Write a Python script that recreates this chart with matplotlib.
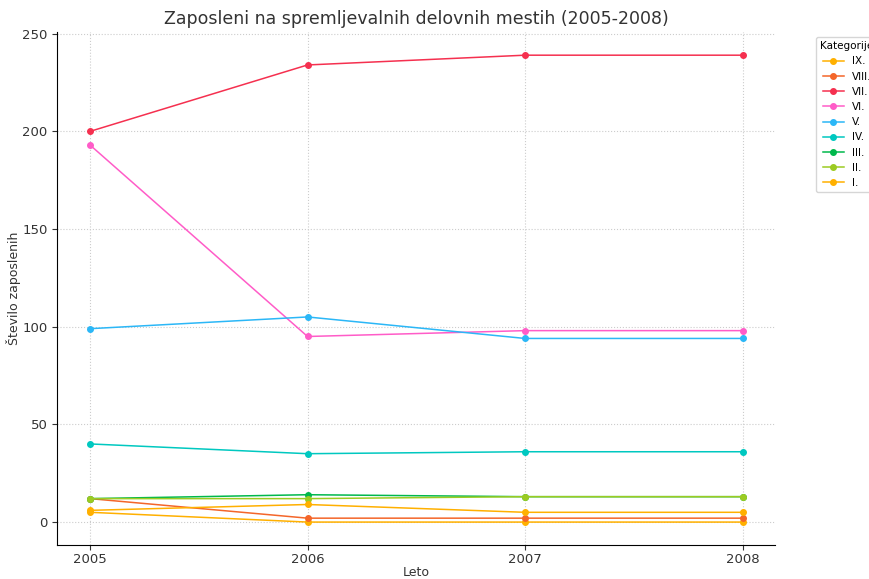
import matplotlib.pyplot as plt

years = [2005, 2006, 2007, 2008]

# legend order (top to bottom)
categories = ['IX.', 'VIII.', 'VII.', 'VI.', 'V.', 'IV.', 'III.', 'II.', 'I.']
values = {
    'IX.':   [5, 0, 0, 0],
    'VIII.': [12, 2, 2, 2],
    'VII.':  [200, 234, 239, 239],
    'VI.':   [193, 95, 98, 98],
    'V.':    [99, 105, 94, 94],
    'IV.':   [40, 35, 36, 36],
    'III.':  [12, 14, 13, 13],
    'II.':   [12, 12, 13, 13],
    'I.':    [6, 9, 5, 5],
}
colors = {
    'IX.': '#FFB000',
    'VIII.': '#F4662A',
    'VII.': '#F5304F',
    'VI.': '#FF5CC8',
    'V.': '#2BB7F7',
    'IV.': '#00C8C0',
    'III.': '#00B84C',
    'II.': '#9CCB22',
    'I.': '#FFB000',
}

fig, ax = plt.subplots(figsize=(8.7, 5.79), dpi=100)

for cat in categories:
    ax.plot(years, values[cat], marker='o', markersize=4, linewidth=1.1,
            color=colors[cat], label=cat)

ax.set_title('Zaposleni na spremljevalnih delovnih mestih (2005-2008)',
             fontsize=12.5, color='#333333')
ax.set_xlabel('Leto', fontsize=9, color='#333333', labelpad=0)
ax.set_ylabel('Število zaposlenih', fontsize=9, color='#333333', labelpad=1)
ax.set_xticks(years)
ax.set_xticklabels([str(y) for y in years])
ax.tick_params(colors='#333333', labelsize=9.5)
ax.tick_params(axis='x', pad=2)
ax.grid(True, linestyle=':', color='#cccccc', linewidth=0.8)
ax.spines['top'].set_visible(False)
ax.spines['right'].set_visible(False)

leg = ax.legend(title='Kategorije', loc='upper left', bbox_to_anchor=(1.05, 1.0),
                fontsize=7.5, title_fontsize=7.5)

fig.subplots_adjust(left=0.066, right=0.891, top=0.945, bottom=0.058)
fig.savefig('out.png', dpi=100)
